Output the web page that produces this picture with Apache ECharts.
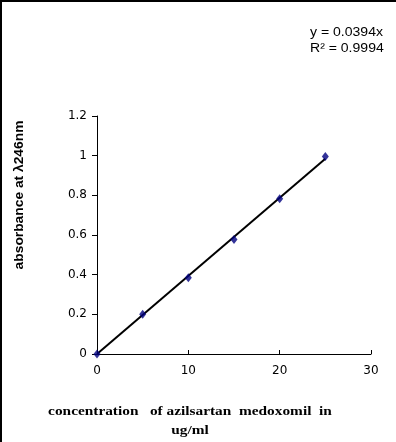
<!DOCTYPE html>
<html><head><meta charset="utf-8">
<script src="https://cdn.jsdelivr.net/npm/echarts@6/dist/echarts.min.js"></script>
<style>html,body{margin:0;padding:0;background:#fff}#c{width:396px;height:442px}</style>
</head><body><div id="c"></div>
<script>
const concentrations = [0, 5, 10, 15, 20, 25];
const absorbance = [0, 0.200, 0.385, 0.577, 0.783, 0.996];
const slope = 0.0394;
const trendX = [0, 25];
const equationText = ['y = 0.0394x', 'R² = 0.9994'];
const xTitle = ['concentration   of azilsartan  medoxomil  in', 'ug/ml'];
const yTitle = 'absorbance at λ246nm';

const chart = echarts.init(document.getElementById('c'), null, {renderer: 'canvas'});
chart.setOption({
  animation: false,
  backgroundColor: '#fff',
  grid: {left: 97, right: 25, top: 116, bottom: 88, containLabel: false},
  xAxis: {
    type: 'value', min: 0, max: 30, interval: 10,
    axisLine: {lineStyle: {color: '#000', width: 1}},
    axisTick: {inside: true, length: 4, lineStyle: {color: '#000'}},
    axisLabel: {color: '#000', fontFamily: '"DejaVu Sans", Arial', fontSize: 12, margin: 11},
    splitLine: {show: false}
  },
  yAxis: {
    type: 'value', min: 0, max: 1.2, interval: 0.2,
    axisLine: {show: true, lineStyle: {color: '#000', width: 1}},
    axisTick: {show: true, inside: false, length: 5, lineStyle: {color: '#000'}},
    axisLabel: {color: '#000', fontFamily: '"DejaVu Sans", Arial', fontSize: 12, margin: 10,
      formatter: v => String(Math.round(v * 10) / 10)},
    splitLine: {show: false}
  },
  series: [
    {
      type: 'line', data: trendX.map(x => [x, slope * x]), symbol: 'none',
      lineStyle: {color: '#000', width: 2}, z: 2
    },
    {
      type: 'scatter', data: concentrations.map((x, i) => [x, absorbance[i]]),
      symbol: 'diamond', symbolSize: [7, 9],
      itemStyle: {color: '#000080'}, z: 3
    }
  ],
  graphic: [
    {type: 'rect', shape: {x: 0, y: 0, width: 396, height: 2}, style: {fill: '#000'}},
    {type: 'rect', shape: {x: 0, y: 0, width: 2, height: 442}, style: {fill: '#000'}},
    {type: 'text', x: 310, y: 33, scaleX: 1.17, style: {text: equationText[0], font: '12px "Liberation Sans", Arial', fill: '#000', align: 'left', verticalAlign: 'middle'}},
    {type: 'text', x: 310, y: 49, scaleX: 1.17, style: {text: equationText[1], font: '12px "Liberation Sans", Arial', fill: '#000', align: 'left', verticalAlign: 'middle'}},
    {type: 'text', x: 20, y: 195, rotation: Math.PI / 2, scaleX: 1.15, style: {text: yTitle, font: 'bold 12px "Liberation Sans", Arial', fill: '#000', align: 'center', verticalAlign: 'middle'}},
    {type: 'text', x: 190, y: 412, scaleX: 1.18, style: {text: xTitle[0], font: 'bold 13px "Liberation Serif", "Times New Roman"', fill: '#000', align: 'center', verticalAlign: 'middle'}},
    {type: 'text', x: 190, y: 431, scaleX: 1.18, style: {text: xTitle[1], font: 'bold 13px "Liberation Serif", "Times New Roman"', fill: '#000', align: 'center', verticalAlign: 'middle'}}
  ]
});
</script></body></html>
